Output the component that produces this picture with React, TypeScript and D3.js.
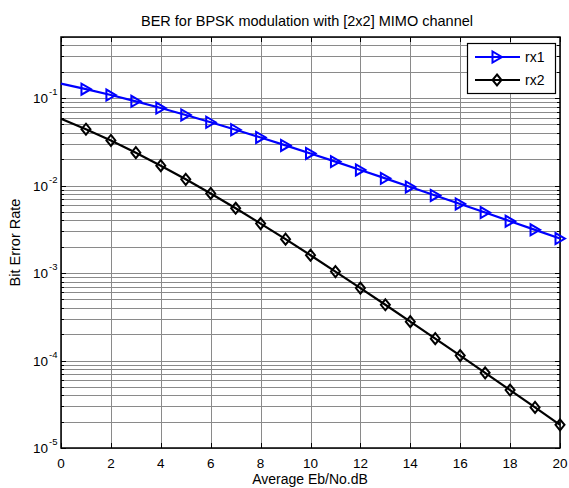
import React, { useEffect, useRef } from 'react';
import * as d3 from 'd3';

// Eb/No in dB
const snrDb = [0, 1, 2, 3, 4, 5, 6, 7, 8, 9, 10, 11, 12, 13, 14, 15, 16, 17, 18, 19, 20];
// BER, one receive antenna
const berRx1 = [0.1465, 0.1267, 0.1085, 0.0919, 0.0771, 0.0642, 0.0530, 0.0435, 0.0355, 0.0288,
    0.0233, 0.0188, 0.0151, 0.0121, 0.00966, 0.00772, 0.00617, 0.00492, 0.00392, 0.00312, 0.00248];
// BER, two receive antennas
const berRx2 = [0.0581, 0.0441, 0.0328, 0.0238, 0.0169, 0.0118, 0.00813, 0.00551, 0.00368, 0.00244,
    0.00160, 0.00104, 0.000674, 0.000434, 0.000278, 0.000178, 0.000114, 0.0000724, 0.0000460, 0.0000291, 0.0000184];
const xTicks = [0, 2, 4, 6, 8, 10, 12, 14, 16, 18, 20];
const yDecades = [-5, -4, -3, -2, -1];
const legendNames = ['rx1', 'rx2'];

const W = 569, H = 488;
const FONT = '"Liberation Sans", Arial, Helvetica, sans-serif';

const triRight = (x: number, y: number) =>
    `M${x + 5},${y} L${x - 4.5},${y - 5.5} L${x - 4.5},${y + 5.5} Z`;
const diamond = (x: number, y: number) =>
    `M${x},${y - 5.5} L${x + 4.5},${y} L${x},${y + 5.5} L${x - 4.5},${y} Z`;

const App = () => {
    const ref = useRef<SVGSVGElement>(null);

    useEffect(() => {
        const svg = d3.select(ref.current);
        svg.selectAll('*').remove();

        const x = d3.scaleLinear().domain([0, 20]).range([61, 560]);
        const y = d3.scaleLog().domain([1e-5, 0.5]).range([448, 37]);
        const [x0, x1] = x.range();
        const [y0, y1] = y.range();

        svg.append('rect').attr('width', W).attr('height', H).attr('fill', 'white');

        // grid
        const grid = svg.append('g').attr('stroke', '#8a8a8a').attr('stroke-width', 1);
        xTicks.forEach(t => {
            grid.append('line')
                .attr('x1', Math.round(x(t)) + 0.5).attr('x2', Math.round(x(t)) + 0.5)
                .attr('y1', y1).attr('y2', y0);
        });
        const minors: number[] = [];
        yDecades.forEach(d => {
            for (let m = 1; m <= 9; m++) {
                const v = m * Math.pow(10, d);
                if (v <= 0.5) minors.push(v);
            }
        });
        minors.forEach(v => {
            grid.append('line')
                .attr('x1', x0).attr('x2', x1)
                .attr('y1', Math.round(y(v)) + 0.5).attr('y2', Math.round(y(v)) + 0.5);
        });

        // ticks
        const ticks = svg.append('g').attr('stroke', 'black').attr('stroke-width', 1);
        xTicks.forEach(t => {
            const px = Math.round(x(t)) + 0.5;
            ticks.append('line').attr('x1', px).attr('x2', px).attr('y1', y0).attr('y2', y0 - 5);
            ticks.append('line').attr('x1', px).attr('x2', px).attr('y1', y1).attr('y2', y1 + 5);
        });
        minors.forEach(v => {
            const py = Math.round(y(v)) + 0.5;
            const len = yDecades.some(d => Math.abs(Math.pow(10, d) - v) < 1e-12) ? 5 : 3;
            ticks.append('line').attr('x1', x0).attr('x2', x0 + len).attr('y1', py).attr('y2', py);
            ticks.append('line').attr('x1', x1).attr('x2', x1 - len).attr('y1', py).attr('y2', py);
        });

        // frame
        svg.append('rect')
            .attr('x', x0).attr('y', y1).attr('width', x1 - x0).attr('height', y0 - y1)
            .attr('fill', 'none').attr('stroke', 'black').attr('stroke-width', 1.5);

        // tick labels
        svg.append('g').selectAll('text').data(xTicks).join('text')
            .attr('x', d => x(d)).attr('y', y0 + 20)
            .attr('text-anchor', 'middle')
            .attr('font-family', FONT).attr('font-size', 13.5)
            .text(d => d);

        const yl = svg.append('g').attr('font-family', FONT);
        yDecades.forEach(d => {
            const py = y(Math.pow(10, d));
            yl.append('text').attr('x', 48).attr('y', py + 5)
                .attr('text-anchor', 'end').attr('font-size', 13.5).text('10');
            yl.append('text').attr('x', 49).attr('y', py - 3)
                .attr('font-size', 9.5).text(String(d));
        });

        // series
        const line = d3.line<number>().x((d, i) => x(snrDb[i])).y(d => y(d));
        const series = [
            { data: berRx1, color: '#0000ff', marker: triRight },
            { data: berRx2, color: '#000000', marker: diamond },
        ];
        series.forEach(s => {
            svg.append('path').attr('d', line(s.data))
                .attr('fill', 'none').attr('stroke', s.color).attr('stroke-width', 2.2);
            svg.append('g').selectAll('path').data(s.data.slice(1)).join('path')
                .attr('d', (d, i) => s.marker(x(snrDb[i + 1]), y(d)))
                .attr('fill', 'none').attr('stroke', s.color).attr('stroke-width', 2)
                .attr('stroke-linejoin', 'miter');
        });

        // legend
        const lg = svg.append('g');
        lg.append('rect').attr('x', 467.5).attr('y', 43.5).attr('width', 88).attr('height', 50)
            .attr('fill', 'white').attr('stroke', 'black').attr('stroke-width', 1.2);
        series.forEach((s, i) => {
            const ly = 57 + i * 23;
            lg.append('line').attr('x1', 475).attr('x2', 520).attr('y1', ly).attr('y2', ly)
                .attr('stroke', s.color).attr('stroke-width', 2.2);
            lg.append('path').attr('d', s.marker(497, ly))
                .attr('fill', 'none').attr('stroke', s.color).attr('stroke-width', 2);
            lg.append('text').attr('x', 525).attr('y', ly + 5)
                .attr('font-family', FONT).attr('font-size', 14).text(legendNames[i]);
        });

        // titles
        svg.append('text').attr('x', 307).attr('y', 26).attr('text-anchor', 'middle')
            .attr('font-family', FONT).attr('font-size', 14.5)
            .text('BER for BPSK modulation with [2x2] MIMO channel');
        svg.append('text').attr('x', 310).attr('y', 483.5).attr('text-anchor', 'middle')
            .attr('font-family', FONT).attr('font-size', 14)
            .text('Average Eb/No.dB');
        svg.append('text')
            .attr('transform', `translate(20,${(y0 + y1) / 2}) rotate(-90)`)
            .attr('text-anchor', 'middle')
            .attr('font-family', FONT).attr('font-size', 14.5)
            .text('Bit Error Rate');
    }, []);

    return (
        <svg ref={ref} width={W} height={H}
             style={{ position: 'absolute', left: 0, top: 0, display: 'block' }} />
    );
};

export default App;
